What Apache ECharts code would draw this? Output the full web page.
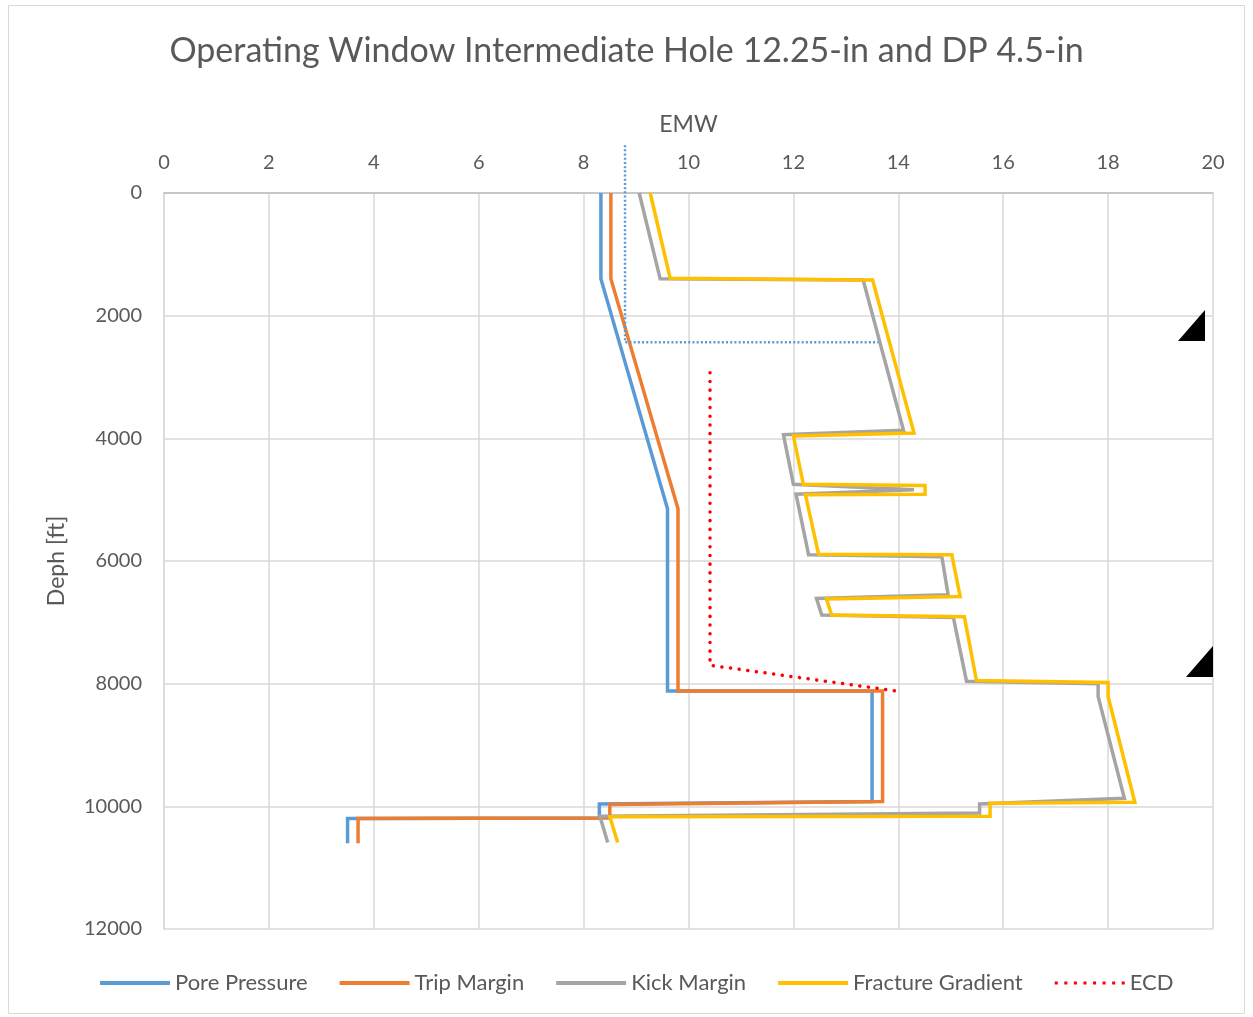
<!DOCTYPE html>
<html>
<head>
<meta charset="utf-8">
<script src="https://cdn.jsdelivr.net/npm/echarts@6/dist/echarts.min.js"></script>
<style>
html,body{margin:0;padding:0;background:#fff;}
#c{width:1253px;height:1017px;}
</style>
</head>
<body>
<div id="c"></div>
<script>
// EMW values paired with depth [ft]
var porePressure = [[8.33,0],[8.33,1400],[9.6,5150],[9.6,8120],[13.5,8120],[13.5,9920],[8.3,9960],[8.3,10190],[3.5,10200],[3.5,10600]];
var tripMargin = [[8.52,0],[8.52,1400],[9.8,5150],[9.8,8120],[13.7,8120],[13.7,9920],[8.5,9970],[8.5,10190],[3.7,10200],[3.7,10600]];
var kickMargin = [[9.06,0],[9.46,1400],[13.33,1420],[14.1,3870],[11.81,3940],[12.0,4750],[14.3,4840],[12.05,4910],[12.29,5900],[14.83,5930],[14.95,6550],[12.44,6610],[12.54,6880],[15.05,6920],[15.3,7960],[17.81,8000],[17.81,8210],[18.31,9870],[15.55,9960],[15.55,10110],[8.31,10160],[8.46,10590]];
var fractureGradient = [[9.27,0],[9.65,1390],[13.51,1420],[14.3,3915],[12.0,3960],[12.19,4750],[14.51,4770],[14.51,4910],[12.23,4920],[12.48,5890],[15.02,5900],[15.18,6580],[12.63,6620],[12.73,6880],[15.26,6910],[15.49,7950],[18.0,7980],[18.0,8210],[18.51,9935],[15.75,9950],[15.75,10160],[8.5,10170],[8.65,10590]];
var ecd = [[10.41,2930],[10.41,7700],[13.97,8120]];
var casingGuide = [[8.79,-780],[8.79,2435],[13.62,2435]];
var xTicks = [0,2,4,6,8,10,12,14,16,18,20];
var yTicks = [0,2000,4000,6000,8000,10000,12000];

var FONT = 'Lato';
var chart = echarts.init(document.getElementById('c'), null, {renderer:'canvas'});
function lineSeries(name, data, color){
  return {name:name, type:'line', data:data, symbol:'none', smooth:false,
    lineStyle:{color:color, width:3.5, join:'miter'}, itemStyle:{color:color}, animation:false};
}
var solidIcon = 'path://M0,0 L70,0 L70,4 L0,4 Z';
var dotIcon = 'path://M0,0h3v3h-3zM9.5,0h3v3h-3zM19,0h3v3h-3zM28.5,0h3v3h-3zM38,0h3v3h-3zM47.5,0h3v3h-3zM57,0h3v3h-3zM66.5,0h3v3h-3z';
chart.setOption({
  backgroundColor:'#ffffff',
  animation:false,
  title:{text:'Operating Window Intermediate Hole 12.25-in and DP 4.5-in', left:'center', top:29,
    textStyle:{fontFamily:FONT, fontSize:34, fontWeight:'normal', color:'#595959'}},
  grid:{left:164, right:40, top:193, bottom:88},
  xAxis:{type:'value', position:'top', min:xTicks[0], max:xTicks[xTicks.length-1], interval:2,
    name:'EMW', nameLocation:'middle', nameGap:68,
    nameTextStyle:{fontFamily:FONT, fontSize:23, color:'#595959', verticalAlign:'middle'},
    axisLine:{show:true, lineStyle:{color:'#bfbfbf', width:1.5}}, axisTick:{show:false},
    axisLabel:{fontFamily:FONT, fontSize:20, color:'#595959', margin:20},
    splitLine:{show:true, lineStyle:{color:'#d9d9d9', width:1.5}}},
  yAxis:{type:'value', inverse:true, min:yTicks[0], max:yTicks[yTicks.length-1], interval:2000,
    name:'Deph [ft]', nameLocation:'middle', nameGap:96, nameRotate:90,
    nameTextStyle:{fontFamily:FONT, fontSize:23, color:'#595959'},
    axisLine:{show:true, lineStyle:{color:'#d9d9d9', width:1.5}}, axisTick:{show:false},
    axisLabel:{fontFamily:FONT, fontSize:20, color:'#595959', margin:22, formatter:function(v){return String(v);}},
    splitLine:{show:true, lineStyle:{color:'#d9d9d9', width:1.5}}},
  legend:{bottom:18, left:95, itemWidth:70, itemHeight:4, itemGap:32,
    textStyle:{fontFamily:FONT, fontSize:22, color:'#595959'},
    data:[
      {name:'Pore Pressure', icon:solidIcon},
      {name:'Trip Margin', icon:solidIcon},
      {name:'Kick Margin', icon:solidIcon},
      {name:'Fracture Gradient', icon:solidIcon},
      {name:'ECD', icon:dotIcon}
    ]},
  series:[
    lineSeries('Pore Pressure', porePressure, '#5b9bd5'),
    lineSeries('Trip Margin', tripMargin, '#ed7d31'),
    lineSeries('Kick Margin', kickMargin, '#a5a5a5'),
    lineSeries('Fracture Gradient', fractureGradient, '#ffc000'),
    {name:'ECD', type:'line', data:ecd, symbol:'none', lineStyle:{color:'#ff0000', width:3.5, type:[0.1,8.6], cap:'round'}, itemStyle:{color:'#ff0000'}},
    {name:'guide', type:'line', data:casingGuide, symbol:'none', clip:false, silent:true,
      lineStyle:{color:'#5b9bd5', width:2.5, type:[2,2.2]}, itemStyle:{color:'#5b9bd5'}}
  ],
  graphic:[
    {type:'rect', shape:{x:8.5, y:5.5, width:1236, height:1008}, style:{fill:'none', stroke:'#d9d9d9', lineWidth:1}, silent:true},
    {type:'polygon', shape:{points:[[1178,341],[1205,310],[1205,341]]}, style:{fill:'#000'}, z:100},
    {type:'polygon', shape:{points:[[1186,677],[1213,646],[1213,677]]}, style:{fill:'#000'}, z:100}
  ]
});
</script>
</body>
</html>
